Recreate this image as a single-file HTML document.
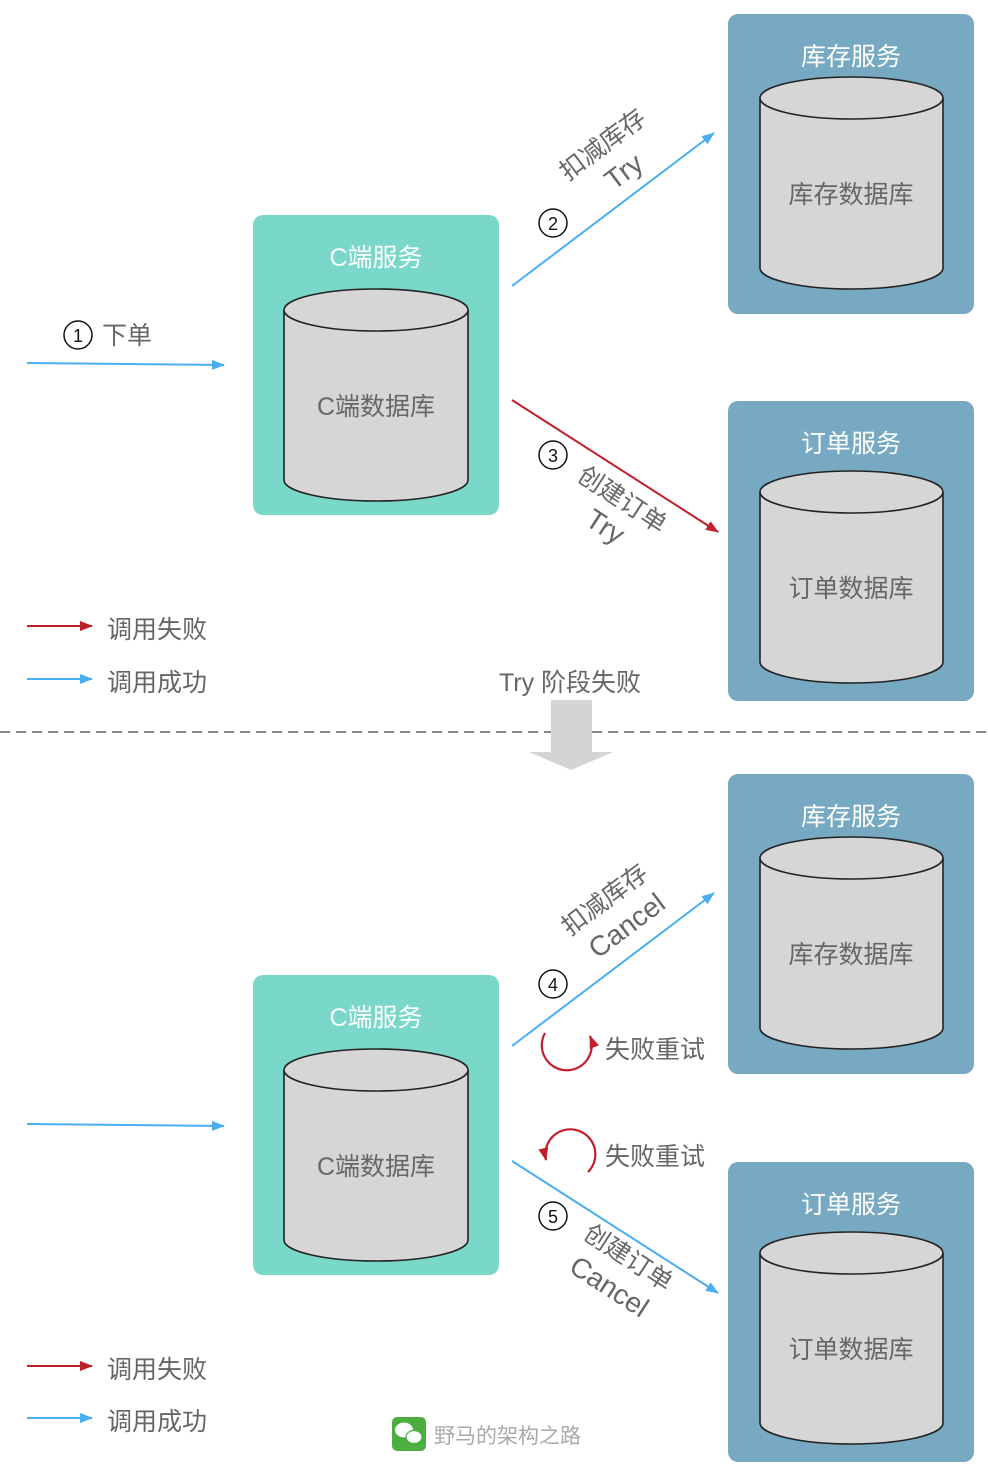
<!DOCTYPE html>
<html><head><meta charset="utf-8"><style>
html,body{margin:0;padding:0;background:#fff;}
svg{display:block;}
text{font-family:"Liberation Sans","Noto Sans CJK SC",sans-serif;}
</style></head><body>
<svg width="988" height="1476" viewBox="0 0 988 1476" xmlns="http://www.w3.org/2000/svg">
<defs>
<marker id="ab" markerWidth="13" markerHeight="10" refX="12" refY="5" orient="auto" markerUnits="userSpaceOnUse"><path d="M0,0 L13,5 L0,10 Z" fill="#48aef0"/></marker>
<marker id="ar" markerWidth="13" markerHeight="10" refX="12" refY="5" orient="auto" markerUnits="userSpaceOnUse"><path d="M0,0 L13,5 L0,10 Z" fill="#c01f2c"/></marker>
<g id="cbox">
<rect x="253" y="215" width="246" height="300" rx="10" fill="#7ad8cb"/>
<text x="376" y="266" font-size="25" fill="#fff" text-anchor="middle">C端服务</text>
<path d="M284,310 L284,480 A92,21 0 0 0 468,480 L468,310" fill="#d6d6d6" stroke="#222" stroke-width="1.6"/>
<ellipse cx="376" cy="310" rx="92" ry="21" fill="#d6d6d6" stroke="#222" stroke-width="1.6"/>
<text x="376" y="415" font-size="25" fill="#666" text-anchor="middle">C端数据库</text>
</g>
<g id="sbox">
<rect x="728" y="14" width="246" height="300" rx="10" fill="#78a9c2"/>
<text x="851" y="65" font-size="25" fill="#fff" text-anchor="middle">库存服务</text>
<path d="M760,98 L760,268 A91.5,21 0 0 0 943,268 L943,98" fill="#d6d6d6" stroke="#222" stroke-width="1.6"/>
<ellipse cx="851.5" cy="98" rx="91.5" ry="21" fill="#d6d6d6" stroke="#222" stroke-width="1.6"/>
<text x="851" y="203" font-size="25" fill="#666" text-anchor="middle">库存数据库</text>
</g>
<g id="obox">
<rect x="728" y="14" width="246" height="300" rx="10" fill="#78a9c2"/>
<text x="851" y="65" font-size="25" fill="#fff" text-anchor="middle">订单服务</text>
<path d="M760,105 L760,275 A91.5,21 0 0 0 943,275 L943,105" fill="#d6d6d6" stroke="#222" stroke-width="1.6"/>
<ellipse cx="851.5" cy="105" rx="91.5" ry="21" fill="#d6d6d6" stroke="#222" stroke-width="1.6"/>
<text x="851" y="210" font-size="25" fill="#666" text-anchor="middle">订单数据库</text>
</g>
</defs>

<use href="#cbox"/>
<use href="#sbox"/>
<use href="#obox" transform="translate(0,387)"/>

<line x1="27" y1="363" x2="224" y2="365" stroke="#48aef0" stroke-width="2" marker-end="url(#ab)"/>
<circle cx="78" cy="335" r="14" fill="#fff" stroke="#111" stroke-width="1.5"/>
<text x="78" y="342" font-size="18" text-anchor="middle" fill="#111">1</text>
<text x="102" y="344" font-size="25" fill="#666">下单</text>

<line x1="512" y1="286" x2="714" y2="133" stroke="#48aef0" stroke-width="2" marker-end="url(#ab)"/>
<circle cx="553" cy="223" r="14" fill="#fff" stroke="#111" stroke-width="1.5"/>
<text x="553" y="230" font-size="18" text-anchor="middle" fill="#111">2</text>
<text transform="translate(603,145) rotate(-37)" y="8" font-size="25" fill="#666" text-anchor="middle">扣减库存</text>
<text transform="translate(624,172) rotate(-37)" y="9" font-size="28" fill="#666" text-anchor="middle">Try</text>

<line x1="512" y1="400" x2="718" y2="532" stroke="#c01f2c" stroke-width="2" marker-end="url(#ar)"/>
<circle cx="553" cy="455" r="14" fill="#fff" stroke="#111" stroke-width="1.5"/>
<text x="553" y="462" font-size="18" text-anchor="middle" fill="#111">3</text>
<text transform="translate(622,500) rotate(33)" y="8" font-size="25" fill="#666" text-anchor="middle">创建订单</text>
<text transform="translate(605,527) rotate(33)" y="9" font-size="28" fill="#666" text-anchor="middle">Try</text>

<line x1="27" y1="626" x2="92" y2="626" stroke="#c01f2c" stroke-width="2" marker-end="url(#ar)"/>
<text x="107" y="638" font-size="25" fill="#666">调用失败</text>
<line x1="27" y1="679" x2="92" y2="679" stroke="#48aef0" stroke-width="2" marker-end="url(#ab)"/>
<text x="107" y="691" font-size="25" fill="#666">调用成功</text>
<text x="570" y="691" font-size="25" fill="#666" text-anchor="middle">Try 阶段失败</text>

<line x1="0" y1="732" x2="988" y2="732" stroke="#888" stroke-width="2" stroke-dasharray="10,6"/>
<path d="M551,700 L592,700 L592,752 L613,752 L571,770 L529,752 L551,752 Z" fill="#d4d4d4"/>

<use href="#cbox" transform="translate(0,760)"/>
<use href="#sbox" transform="translate(0,760)"/>
<use href="#obox" transform="translate(0,1148)"/>

<line x1="27" y1="1124" x2="224" y2="1126" stroke="#48aef0" stroke-width="2" marker-end="url(#ab)"/>

<line x1="512" y1="1046" x2="714" y2="893" stroke="#48aef0" stroke-width="2" marker-end="url(#ab)"/>
<circle cx="553" cy="984" r="14" fill="#fff" stroke="#111" stroke-width="1.5"/>
<text x="553" y="991" font-size="18" text-anchor="middle" fill="#111">4</text>
<text transform="translate(605,900) rotate(-37)" y="8" font-size="25" fill="#666" text-anchor="middle">扣减库存</text>
<text transform="translate(627,926) rotate(-37)" y="9" font-size="28" fill="#666" text-anchor="middle">Cancel</text>

<path d="M545,1033 A25,25 0 1 0 590,1036" fill="none" stroke="#c01f2c" stroke-width="2.2" marker-end="url(#ar)"/>
<text x="605" y="1058" font-size="25" fill="#666">失败重试</text>

<line x1="512" y1="1161" x2="718" y2="1293" stroke="#48aef0" stroke-width="2" marker-end="url(#ab)"/>
<path d="M588,1172 A25,25 0 1 0 546,1160" fill="none" stroke="#c01f2c" stroke-width="2.2" marker-end="url(#ar)"/>
<text x="605" y="1165" font-size="25" fill="#666">失败重试</text>
<circle cx="553" cy="1216" r="14" fill="#fff" stroke="#111" stroke-width="1.5"/>
<text x="553" y="1223" font-size="18" text-anchor="middle" fill="#111">5</text>
<text transform="translate(628,1258) rotate(33)" y="8" font-size="25" fill="#666" text-anchor="middle">创建订单</text>
<text transform="translate(609,1287) rotate(33)" y="9" font-size="28" fill="#666" text-anchor="middle">Cancel</text>

<line x1="27" y1="1366" x2="92" y2="1366" stroke="#c01f2c" stroke-width="2" marker-end="url(#ar)"/>
<text x="107" y="1378" font-size="25" fill="#666">调用失败</text>
<line x1="27" y1="1418" x2="92" y2="1418" stroke="#48aef0" stroke-width="2" marker-end="url(#ab)"/>
<text x="107" y="1430" font-size="25" fill="#666">调用成功</text>

<rect x="392" y="1417" width="34" height="34" rx="5" fill="#4cae3f"/>
<ellipse cx="404" cy="1430" rx="9" ry="7.5" fill="#fff"/>
<ellipse cx="414" cy="1437" rx="8" ry="6.5" fill="#fff" stroke="#4cae3f" stroke-width="1.2"/>
<text x="434" y="1443" font-size="21" fill="#aaa">野马的架构之路</text>
</svg>
</body></html>
